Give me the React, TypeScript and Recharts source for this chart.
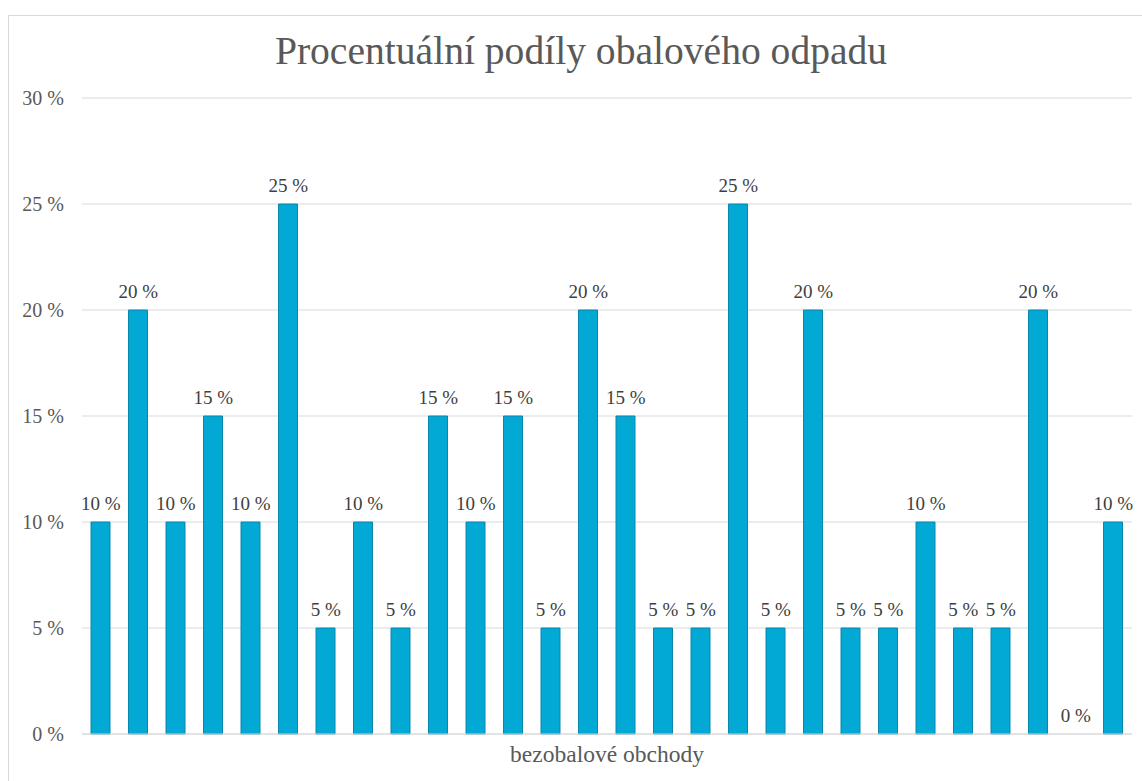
import React from 'react';
import { ComposedChart, Bar, Line, XAxis, YAxis, CartesianGrid, LabelList } from 'recharts';

const categories: string[] = Array.from({ length: 28 }, (_, i) => `obchod ${i + 1}`);
const shares: number[] = [10, 20, 10, 15, 10, 25, 5, 10, 5, 15, 10, 15, 5, 20, 15, 5, 5, 25, 5, 20, 5, 5, 10, 5, 5, 20, 0, 10];
const yTicks: number[] = [0, 5, 10, 15, 20, 25, 30];

const data = categories.map((name, i) => ({ name, value: shares[i] }));

const FONT = '"Liberation Serif", "Times New Roman", serif';

const renderValueLabel = (props: any) => {
  const { x, y, value } = props;
  return (
    <text
      x={Number(x)}
      y={Number(y) - 12}
      textAnchor="middle"
      fill="#404040"
      fontSize={19}
      fontFamily={FONT}
    >
      {`${value} %`}
    </text>
  );
};

export default function App() {
  return (
    <div
      style={{
        position: 'absolute',
        left: 8,
        top: 15,
        width: 1140,
        height: 780,
        border: '1px solid #d9d9d9',
        background: '#fff',
        fontFamily: FONT,
      }}
    >
      <div
        style={{
          position: 'absolute',
          left: 0,
          top: 15,
          width: 1144,
          textAlign: 'center',
          fontSize: 39.6,
          color: '#595959',
          fontFamily: FONT,
          lineHeight: '40px',
          whiteSpace: 'nowrap',
        }}
      >
        Procentuální podíly obalového odpadu
      </div>
      <div style={{ position: 'absolute', left: 0, top: 0 }}>
        <ComposedChart
          width={1133}
          height={765}
          data={data}
          margin={{ top: 82, right: 10, bottom: 0, left: 0 }}
        >
          <CartesianGrid vertical={false} stroke="#d9d9d9" strokeWidth={1} />
          <XAxis
            dataKey="name"
            tick={false}
            tickLine={false}
            axisLine={{ stroke: '#d9d9d9' }}
            height={47}
            label={{
              value: 'bezobalové obchody',
              position: 'insideTop',
              offset: 11,
              fill: '#595959',
              fontSize: 23.5,
              fontFamily: FONT,
            }}
          />
          <YAxis
            width={73}
            domain={[0, 30]}
            ticks={yTicks}
            interval={0}
            tickFormatter={(v: number) => `${v} %`}
            axisLine={false}
            tickLine={false}
            tickSize={0}
            tickMargin={18}
            tick={{ fill: '#595959', fontSize: 20, fontFamily: FONT }}
          />
          <Bar
            dataKey="value"
            fill="#02a9d5"
            stroke="#0b86ad"
            strokeWidth={1}
            barSize={19}
            isAnimationActive={false}
          />
          <Line
            dataKey="value"
            stroke="none"
            dot={false}
            activeDot={false}
            isAnimationActive={false}
          >
            <LabelList dataKey="value" content={renderValueLabel} />
          </Line>
        </ComposedChart>
      </div>
    </div>
  );
}
